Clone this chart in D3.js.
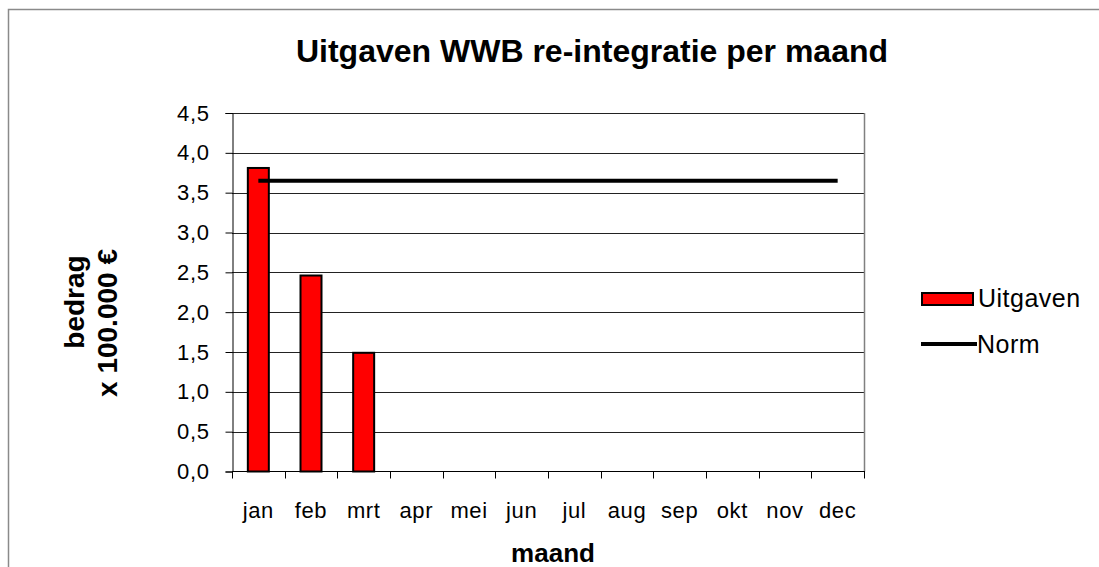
<!DOCTYPE html>
<html>
<head>
<meta charset="utf-8">
<script src="https://cdn.jsdelivr.net/npm/d3@7"></script>
<style>
  html, body { margin: 0; padding: 0; background: #fff; }
  svg { display: block; font-family: Arial, "Liberation Sans", sans-serif; }
</style>
</head>
<body>
<svg id="chart" width="1099" height="567"></svg>
<script>
// Monthly spending on WWB re-integration (x 100.000 €) against the monthly norm
const months = ["jan", "feb", "mrt", "apr", "mei", "jun", "jul", "aug", "sep", "okt", "nov", "dec"];
const uitgaven = [3.81, 2.46, 1.49];          // only the first three months are booked
const norm = [3.65, 3.65, 3.65, 3.65, 3.65, 3.65, 3.65, 3.65, 3.65, 3.65, 3.65, 3.65];
const yTicks = [0, 0.5, 1, 1.5, 2, 2.5, 3, 3.5, 4, 4.5];

const titleText = "Uitgaven WWB re-integratie per maand";
const xTitle = "maand";
const yTitleLines = ["bedrag", "x 100.000 €"];
const seriesNames = ["Uitgaven", "Norm"];

const svg = d3.select("#chart");
const plot = { left: 232, top: 113, right: 864, bottom: 471.5 };

const nl = d3.formatLocale({ decimal: ",", thousands: ".", grouping: [3], currency: ["€", ""] });
const fmt = nl.format(".1f");

const x = d3.scaleBand().domain(months).range([plot.left, plot.right]).paddingInner(0).paddingOuter(0);
const y = d3.scaleLinear().domain([0, 4.5]).range([plot.bottom, plot.top]);

// outer chart frame
svg.append("rect")
  .attr("x", 8.5).attr("y", 9.5).attr("width", 1200).attr("height", 700)
  .attr("fill", "none").attr("stroke", "#8a8a8a").attr("stroke-width", 1.5);

// title
svg.append("text")
  .attr("x", 592).attr("y", 62)
  .attr("text-anchor", "middle")
  .attr("font-size", 32).attr("font-weight", "bold")
  .text(titleText);

// gridlines
svg.append("g").selectAll("line")
  .data(yTicks.filter(d => d > 0))
  .join("line")
  .attr("x1", plot.left).attr("x2", plot.right)
  .attr("y1", d => Math.round(y(d)) + 0.5).attr("y2", d => Math.round(y(d)) + 0.5)
  .attr("stroke", "#222").attr("stroke-width", 1);

// plot area border (right side)
svg.append("line")
  .attr("x1", plot.right + 0.5).attr("x2", plot.right + 0.5)
  .attr("y1", plot.top).attr("y2", plot.bottom)
  .attr("stroke", "#808080").attr("stroke-width", 1.5);

// y axis
const yAxis = d3.axisLeft(y).tickValues(yTicks).tickFormat(fmt).tickSize(7).tickPadding(16);
const gy = svg.append("g").attr("transform", `translate(${plot.left + 0.5},0)`).call(yAxis);
gy.attr("font-size", null).attr("font-family", null);
gy.select(".domain").attr("stroke", "#000");
gy.selectAll(".tick line").attr("stroke", "#000");
gy.selectAll(".tick text")
  .attr("font-size", 22).attr("letter-spacing", "0.6px").attr("fill", "#000");

// x axis: ticks at category boundaries
const gx = svg.append("g").attr("transform", `translate(0,${plot.bottom})`);
gx.append("line")
  .attr("x1", plot.left).attr("x2", plot.right + 1)
  .attr("stroke", "#000");
gx.selectAll("line.bt")
  .data(d3.range(months.length + 1))
  .join("line").attr("class", "bt")
  .attr("x1", i => Math.round(plot.left + i * x.bandwidth()) + 0.5)
  .attr("x2", i => Math.round(plot.left + i * x.bandwidth()) + 0.5)
  .attr("y1", 0).attr("y2", 7)
  .attr("stroke", "#000");
gx.selectAll("text")
  .data(months)
  .join("text")
  .attr("x", d => x(d) + x.bandwidth() / 2)
  .attr("y", 46)
  .attr("text-anchor", "middle")
  .attr("font-size", 22).attr("letter-spacing", "0.6px")
  .text(d => d);

// bars
const barW = 21;
svg.append("g").selectAll("rect")
  .data(uitgaven)
  .join("rect")
  .attr("x", (d, i) => x(months[i]) + x.bandwidth() / 2 - barW / 2)
  .attr("y", d => y(d))
  .attr("width", barW)
  .attr("height", d => y(0) - y(d))
  .attr("fill", "#ff0000")
  .attr("stroke", "#000").attr("stroke-width", 2);

// norm line
const line = d3.line()
  .x((d, i) => x(months[i]) + x.bandwidth() / 2)
  .y(d => y(d));
svg.append("path")
  .datum(norm)
  .attr("d", line)
  .attr("fill", "none").attr("stroke", "#000").attr("stroke-width", 4);

// axis titles
svg.append("text")
  .attr("x", 553).attr("y", 562)
  .attr("text-anchor", "middle")
  .attr("font-size", 26).attr("font-weight", "bold")
  .text(xTitle);

const yT = svg.append("g");
yT.append("text")
  .attr("transform", "translate(84,302) rotate(-90)")
  .attr("text-anchor", "middle")
  .attr("font-size", 28).attr("font-weight", "bold")
  .text(yTitleLines[0]);
yT.append("text")
  .attr("transform", "translate(117,323) rotate(-90)")
  .attr("text-anchor", "middle")
  .attr("font-size", 28).attr("font-weight", "bold")
  .text(yTitleLines[1]);

// legend
const lg = svg.append("g");
lg.append("rect")
  .attr("x", 922).attr("y", 293).attr("width", 51).attr("height", 12)
  .attr("fill", "#ff0000").attr("stroke", "#000").attr("stroke-width", 2);
lg.append("text")
  .attr("x", 978).attr("y", 307)
  .attr("font-size", 25).attr("letter-spacing", "0.5px")
  .text(seriesNames[0]);
lg.append("line")
  .attr("x1", 921).attr("x2", 977).attr("y1", 344).attr("y2", 344)
  .attr("stroke", "#000").attr("stroke-width", 4);
lg.append("text")
  .attr("x", 977).attr("y", 353)
  .attr("font-size", 25).attr("letter-spacing", "0.5px")
  .text(seriesNames[1]);
</script>
</body>
</html>
